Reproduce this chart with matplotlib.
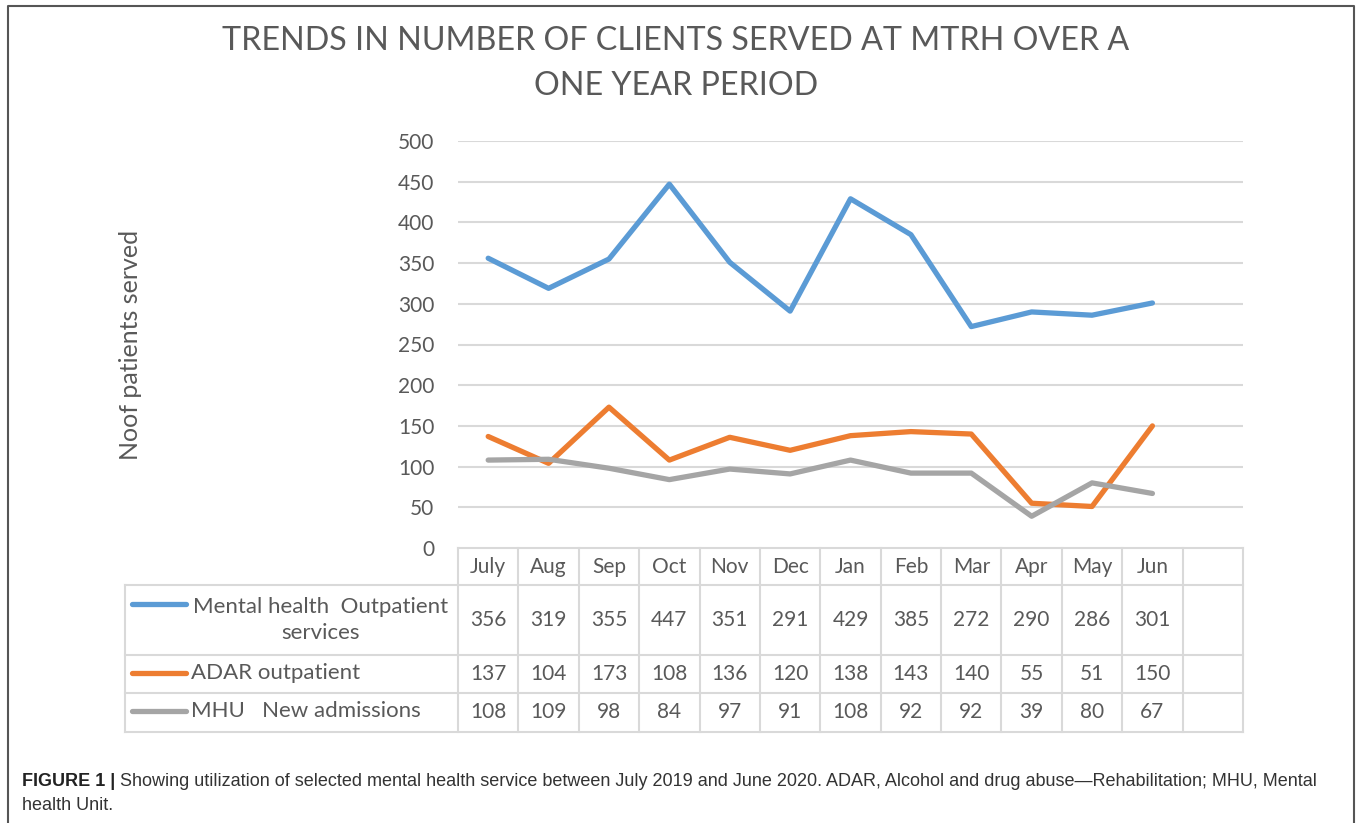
import matplotlib
matplotlib.use("Agg")
import matplotlib.pyplot as plt
from matplotlib.lines import Line2D
import matplotlib.transforms as mtransforms

months = ["July", "Aug", "Sep", "Oct", "Nov", "Dec", "Jan", "Feb", "Mar", "Apr", "May", "Jun"]
mental_health = [356, 319, 355, 447, 351, 291, 429, 385, 272, 290, 286, 301]
adar = [137, 104, 173, 108, 136, 120, 138, 143, 140, 55, 51, 150]
mhu = [108, 109, 98, 84, 97, 91, 108, 92, 92, 39, 80, 67]
series_labels = ["Mental health  Outpatient\nservices", "ADAR outpatient", "MHU   New admissions"]
yticks = [0, 50, 100, 150, 200, 250, 300, 350, 400, 450, 500]
title_lines = ["TRENDS IN NUMBER OF CLIENTS SERVED AT MTRH OVER A", "ONE YEAR PERIOD"]
ylabel = "Noof patients served"
caption_bold = "FIGURE 1 |"
caption_rest = " Showing utilization of selected mental health service between July 2019 and June 2020. ADAR, Alcohol and drug abuse\u2014Rehabilitation; MHU, Mental"
caption_line2 = "health Unit."

W, H = 1357, 823
TXT = "#595959"
GRID = "#D9D9D9"
COLORS = ["#5B9BD5", "#ED7D31", "#A5A5A5"]
FONT = "Lato"

fig = plt.figure(figsize=(W / 100, H / 100), dpi=100)

def fx(px):
    return px / W

def fy(py):
    return 1 - py / H

ax_l, ax_r, ax_t, ax_b = 458, 1243, 141, 548
ax = fig.add_axes([fx(ax_l), fy(ax_b), fx(ax_r - ax_l), (ax_b - ax_t) / H])
ax.set_xlim(-0.5, len(months) + 0.5)
ax.set_ylim(0, 500)
for s in ax.spines.values():
    s.set_visible(False)
ax.set_xticks([])
ax.set_yticks(yticks)
ax.set_yticklabels([str(v) for v in yticks], fontsize=15, color=TXT, fontfamily=FONT)
ax.tick_params(axis="y", length=0, pad=17)
for v in yticks[1:]:
    ax.axhline(v, color=GRID, lw=1.5, zorder=0)

x = list(range(len(months)))
for vals, c in zip([mental_health, adar, mhu], COLORS):
    ax.plot(x, vals, color=c, lw=3.8, solid_joinstyle="round", solid_capstyle="round", zorder=3)

# table: x in data coordinates, y in figure coordinates
trans = mtransforms.blended_transform_factory(ax.transData, fig.transFigure)
row_edges = [548, 585, 655, 693, 732]
ncols = len(months) + 1
for i, yy in enumerate(row_edges):
    x0 = fx(ax_l) if i == 0 else fx(125)
    fig.add_artist(Line2D([x0, fx(ax_r)], [fy(yy), fy(yy)], color=GRID, lw=1.5))
for k in range(ncols + 1):
    xv = -0.5 + k
    fig.add_artist(Line2D([xv, xv], [fy(548), fy(732)], color=GRID, lw=1.5, transform=trans))
fig.add_artist(Line2D([fx(125), fx(125)], [fy(585), fy(732)], color=GRID, lw=1.5))

for i, m in enumerate(months):
    fig.text(i, fy(567), m, transform=trans, ha="center", va="center", fontsize=15, color=TXT, fontfamily=FONT)

row_centres = [620, 674, 712]
for r, (vals, c, lab) in enumerate(zip([mental_health, adar, mhu], COLORS, series_labels)):
    for i, v in enumerate(vals):
        fig.text(i, fy(row_centres[r]), str(v), transform=trans, ha="center", va="center",
                 fontsize=15, color=TXT, fontfamily=FONT)
    key_y = 604 if r == 0 else row_centres[r] - 1
    fig.add_artist(Line2D([fx(132), fx(186)], [fy(key_y), fy(key_y)], color=c, lw=3.8,
                          solid_capstyle="round"))
    if r == 0:
        fig.text(fx(321), fy(row_centres[r]), lab, ha="center", va="center", multialignment="center",
                 fontsize=16, color=TXT, fontfamily=FONT, linespacing=1.4)
    else:
        fig.text(fx(191), fy(row_centres[r] - 1), lab, ha="left", va="center",
                 fontsize=16, color=TXT, fontfamily=FONT)

fig.text(fx(130), fy(345), ylabel, rotation=90, ha="center", va="center", fontsize=18,
         color=TXT, fontfamily=FONT)

# title
for ty, line in zip([41, 86], title_lines):
    fig.text(fx(676), fy(ty), line, ha="center", va="center", fontsize=23.2, color=TXT,
             fontfamily=FONT)

# outer frame
fig.add_artist(Line2D([fx(8), fx(8), fx(1354), fx(1354)], [0, fy(6), fy(6), 0], color="#555555", lw=1.5))

# caption
cap_col = "#333333"
t1 = fig.text(fx(22), fy(781), caption_bold, ha="left", va="center", fontsize=13,
              fontweight="bold", color="#222222", fontfamily="Liberation Sans")
fig.canvas.draw()
bb = t1.get_window_extent(renderer=fig.canvas.get_renderer())
fig.text(bb.x1 / W, fy(781), caption_rest, ha="left", va="center", fontsize=13,
         color=cap_col, fontfamily="Liberation Sans")
fig.text(fx(22), fy(806), caption_line2, ha="left", va="center", fontsize=13,
         color=cap_col, fontfamily="Liberation Sans")

fig.savefig("out.png", dpi=100)
